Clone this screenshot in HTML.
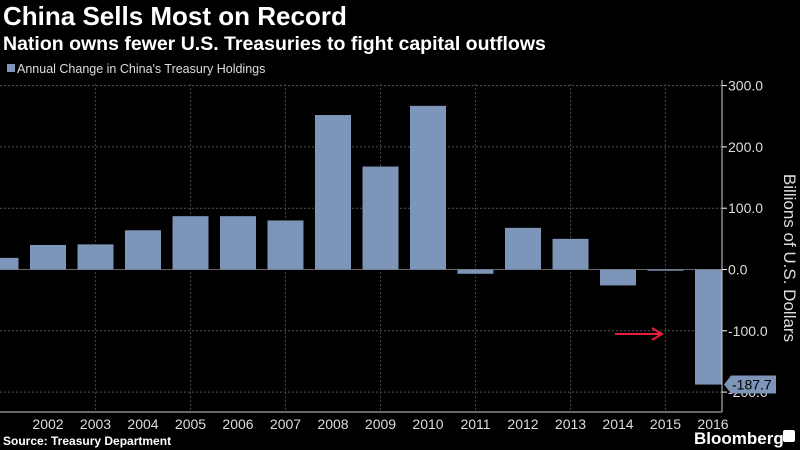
<!DOCTYPE html>
<html><head><meta charset="utf-8"><style>
body{margin:0;background:#000;width:800px;height:450px;overflow:hidden;font-family:"Liberation Sans",sans-serif;color:#fff}
</style></head><body>
<svg width="800" height="450" id="c" style="position:absolute;left:0;top:0">
<text x="3" y="25" font-size="26" font-weight="bold" fill="#fff">China Sells Most on Record</text>
<text x="3" y="50" font-size="19.5" font-weight="bold" fill="#fff">Nation owns fewer U.S. Treasuries to fight capital outflows</text>
<rect x="7" y="64" width="8" height="8" fill="#7d95b8"/>
<text x="17" y="73" font-size="12.5" fill="#ddd">Annual Change in China's Treasury Holdings</text>
<text x="3" y="445" font-size="12" font-weight="bold" fill="#fff">Source: Treasury Department</text>
<text x="694" y="444" font-size="17" font-weight="bold" fill="#fff">Bloomberg</text>
<rect x="783" y="430" width="12" height="12" rx="2" fill="#fff"/>
<text transform="translate(784,258) rotate(90)" text-anchor="middle" font-size="17" fill="#ddd">Billions of U.S. Dollars</text>
<g id="g"></g>
<line x1="615" y1="334" x2="660" y2="334" stroke="#e8203a" stroke-width="2"/>
<path d="M652 328 L662 334 L652 340" fill="none" stroke="#e8203a" stroke-width="2"/>
</svg>
<script>
const years=[2001,2002,2003,2004,2005,2006,2007,2008,2009,2010,2011,2012,2013,2014,2015,2016];
const values=[19,40,41,64,87,87,80,252,168,267,-7,68,50,-26,-2,-187.7];
const yTicks=[300,200,100,0,-100,-200];
const yTickLabels=["300.0","200.0","100.0","0.0","-100.0","-200.0"];
const lastLabel="-187.7";
const NS="http://www.w3.org/2000/svg",g=document.getElementById('g');
const AX=722,y0=269.5,k=0.613;
const Y=v=>y0-v*k;
const X=yr=>48+(yr-2002)*47.5;
function mk(t,a){const e=document.createElementNS(NS,t);for(const n in a)e.setAttribute(n,a[n]);g.appendChild(e);return e;}
yTicks.forEach((t,i)=>{
 const l=mk('line',{x1:0,x2:AX,y1:Y(t),y2:Y(t),stroke:t===0?'#666':'#555','stroke-dasharray':t===0?'':'2,2'});
 
 
 const tk=mk('line',{x1:AX,x2:AX+5,y1:Y(t),y2:Y(t),stroke:'#fff'});
 
 
 const tx=mk('text',{x:AX+6,y:Y(t)+5,'font-size':14,fill:'#ddd'});tx.textContent=yTickLabels[i];
 
 
});
years.forEach((yr,i)=>{
 if(yr>=2003&&yr%2===1){const l=mk('line',{x1:X(yr),x2:X(yr),y1:84,y2:412,stroke:'#444','stroke-dasharray':'2,2'});
 
 }
 const x=X(yr)-18,w=Math.min(36,AX-x),xs=Math.max(0,x),ws=w-(xs-x);
 const v=values[i];
 const r=mk('rect',{x:xs,y:Math.min(Y(v),y0),width:ws,height:Math.abs(Y(v)-y0),fill:'#7d95b8'});
 
 
 if(yr>=2002){const t=mk('text',{x:X(yr),y:429,'font-size':14,fill:'#ddd','text-anchor':'middle'});t.textContent=yr;
 
 }
});
const ax=mk('line',{x1:AX,x2:AX,y1:80,y2:412,stroke:'#ccc'});


const bx=mk('line',{x1:0,x2:AX,y1:412,y2:412,stroke:'#ccc'});


const yl=Y(values[values.length-1]);
const tag=mk('path',{d:`M${AX+2} ${yl} L${AX+9} ${yl-9} H776 V${yl+9} H${AX+9} Z`,fill:'#7d95b8'});


const lt=mk('text',{x:AX+10,y:yl+5,'font-size':14,fill:'#000'});lt.textContent=lastLabel;


</script>
</body></html>
